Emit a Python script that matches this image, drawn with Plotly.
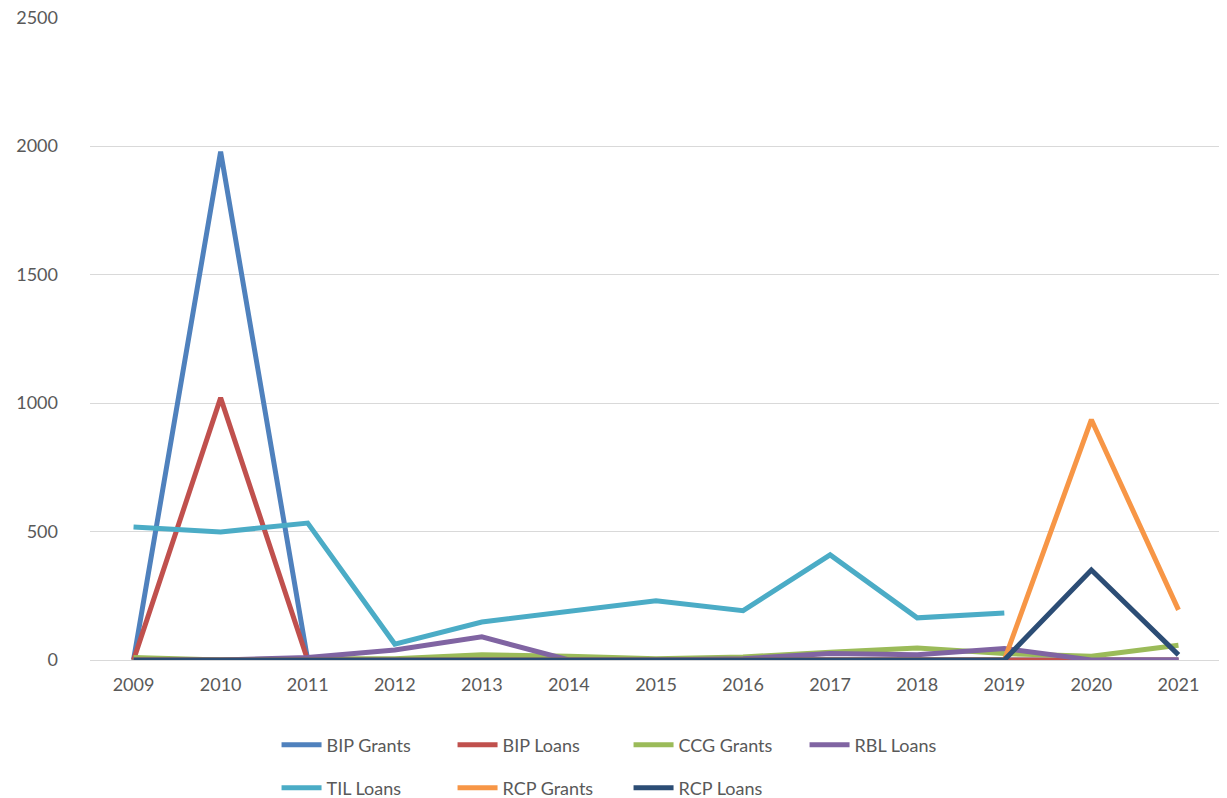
import plotly.graph_objects as go

years = ["2009", "2010", "2011", "2012", "2013", "2014", "2015", "2016", "2017", "2018", "2019", "2020", "2021"]
bip_grants = [0, 1978, 0, 0, 0, 0, 0, 0, 0, 0, 0, 0, 0]
bip_loans = [0, 1020, 0, 0, 0, 0, 0, 0, 0, 0, 0, 0, 0]
ccg_grants = [10, 0, 5, 5, 20, 15, 5, 12, 30, 47, 25, 15, 57]
rbl_loans = [0, 0, 10, 39, 90, 0, 0, 5, 25, 20, 45, 0, 0]
til_loans = [518, 498, 533, 62, 148, 191, 230, 192, 409, 164, 183, None, None]
rcp_grants = [0, 0, 0, 0, 0, 0, 0, 0, 0, 0, 0, 935, 195]
rcp_loans = [0, 0, 0, 0, 0, 0, 0, 0, 0, 0, 0, 350, 20]
y_ticks = [0, 500, 1000, 1500, 2000, 2500]

series = [
    ("BIP Grants", bip_grants, "#4F81BD", "legend"),
    ("BIP Loans", bip_loans, "#C0504D", "legend"),
    ("CCG Grants", ccg_grants, "#9BBB59", "legend"),
    ("RBL Loans", rbl_loans, "#8064A2", "legend"),
    ("TIL Loans", til_loans, "#4BACC6", "legend2"),
    ("RCP Grants", rcp_grants, "#F79646", "legend2"),
    ("RCP Loans", rcp_loans, "#2C4D75", "legend2"),
]

fig = go.Figure()
for name, vals, color, leg in series:
    fig.add_trace(go.Scatter(
        x=years, y=vals, name=name, mode="lines",
        line=dict(color=color, width=5), legend=leg,
        connectgaps=False,
    ))

W, H = 1219, 790
font = dict(family="Lato, 'Open Sans', sans-serif", size=18, color="#595959")
legend_common = dict(
    orientation="h", xref="container", yref="container", xanchor="left", yanchor="middle",
    font=font, entrywidth=121, entrywidthmode="pixels", bgcolor="rgba(0,0,0,0)",
    itemwidth=40, tracegroupgap=0,
)

fig.update_layout(
    width=W, height=H,
    margin=dict(l=82, r=5, t=9, b=138, autoexpand=False),
    paper_bgcolor="white", plot_bgcolor="white",
    font=font,
    showlegend=True,
    legend=dict(x=0.2203, y=1 - 737 / H, **legend_common),
    legend2=dict(x=0.2203, y=1 - 780 / H, **legend_common),
    xaxis=dict(
        type="category", range=[-0.5, 12.5], showgrid=False, showline=True,
        linecolor="#D9D9D9", linewidth=1, automargin=False,
        ticks="", ticklabelstandoff=8, tickfont=font, zeroline=False,
    ),
    yaxis=dict(
        range=[0, 2502], tickmode="array", tickvals=y_ticks, showgrid=True,
        gridcolor="#D9D9D9", gridwidth=1, ticklabeloverflow="allow", automargin=False,
        showline=False, zeroline=False, ticks="", ticklabelstandoff=31, tickfont=font,
    ),
)

fig.write_html("out.html")
